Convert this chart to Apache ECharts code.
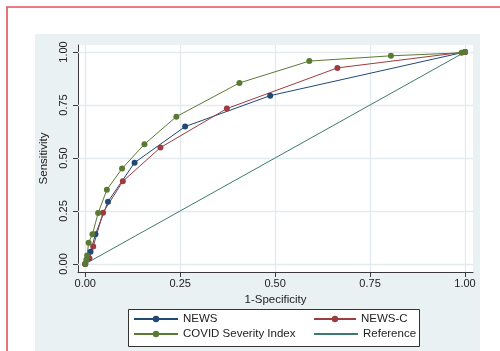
<!DOCTYPE html>
<html>
<head>
<meta charset="utf-8">
<script src="https://cdn.jsdelivr.net/npm/echarts@6/dist/echarts.min.js"></script>
<style>
  html, body { margin: 0; padding: 0; background: #ffffff; }
  #chart { width: 500px; height: 351px; }
</style>
</head>
<body>
<div id="chart"></div>
<script>
// Tick positions shared by both axes
const tickValues = [0, 0.25, 0.5, 0.75, 1];

// ROC curve operating points (1-specificity, sensitivity)
const newsFpr = [0, 0.014, 0.027, 0.060, 0.130, 0.263, 0.487, 1];
const newsTpr = [0, 0.058, 0.140, 0.294, 0.478, 0.648, 0.794, 1];

const newsCFpr = [0, 0.011, 0.021, 0.047, 0.099, 0.198, 0.373, 0.664, 1];
const newsCTpr = [0, 0.027, 0.082, 0.242, 0.390, 0.549, 0.733, 0.925, 1];

const covidFpr = [0, 0.003, 0.005, 0.009, 0.019, 0.034, 0.057, 0.097, 0.156, 0.240, 0.406, 0.590, 0.805, 0.991, 1];
const covidTpr = [0, 0.020, 0.040, 0.100, 0.140, 0.240, 0.350, 0.450, 0.565, 0.695, 0.854, 0.957, 0.982, 0.996, 1];

// Chance diagonal
const refFpr = [0, 1];
const refTpr = [0, 1];

const colors = {
  news: '#1f4a78',
  newsC: '#9c3c40',
  covid: '#5a7a33',
  ref: '#3d7a70'
};

const pairs = (xs, ys) => xs.map((x, i) => [x, ys[i]]);

const FONT = '"Liberation Sans", Arial, Helvetica, sans-serif';
const TEXT = '#222222';

const chart = echarts.init(document.getElementById('chart'), null, { renderer: 'canvas' });

const fmt = v => Number(v).toFixed(2);

const legendBase = {
  orient: 'horizontal',
  padding: 0,
  itemHeight: 8,
  selectedMode: false,
  textStyle: { fontFamily: FONT, fontSize: 11.5, color: TEXT }
};

const option = {
  animation: false,
  backgroundColor: '#ffffff',
  graphic: [
    // graph region background
    { type: 'rect', z: -10, shape: { x: 35, y: 34, width: 445, height: 320 },
      style: { fill: '#eaf1f3' }, silent: true },
    // outer frame
    { type: 'polyline', z: 10, shape: { points: [[7, 352], [7, 7], [501, 7]] },
      style: { stroke: '#e0535b', lineWidth: 1.6, fill: null }, silent: true },
    // legend box
    { type: 'rect', z: 5, shape: { x: 128.5, y: 309.5, width: 291, height: 37 },
      style: { fill: '#ffffff', stroke: '#333333', lineWidth: 1 }, silent: true }
  ],
  grid: {
    left: 78, right: 27, top: 45, bottom: 79,
    show: true, backgroundColor: '#ffffff', borderWidth: 0
  },
  legend: [
    Object.assign({}, legendBase, { data: ['NEWS'], left: 133, top: 313, itemWidth: 44, z: 6 }),
    Object.assign({}, legendBase, { data: ['COVID Severity Index'], left: 133, top: 328, itemWidth: 44, z: 6 }),
    Object.assign({}, legendBase, { data: ['NEWS-C'], left: 313, top: 313, itemWidth: 42, z: 6 }),
    // the diagonal has no markers, so its key is a plain line
    Object.assign({}, legendBase, { data: ['Reference'], left: 313, top: 328, itemWidth: 44, z: 6,
      itemStyle: { opacity: 0 } })
  ],
  xAxis: {
    type: 'value',
    min: -0.019, max: 1.021,
    name: '1-Specificity',
    nameLocation: 'middle',
    nameGap: 18,
    nameTextStyle: { fontFamily: FONT, fontSize: 11.5, color: TEXT },
    axisLine: { show: true, onZero: false, lineStyle: { color: '#3a3a3a', width: 1 } },
    axisTick: { show: true, length: 5, customValues: tickValues, lineStyle: { color: '#3a3a3a' } },
    axisLabel: { customValues: tickValues, formatter: fmt, margin: 6,
      fontFamily: FONT, fontSize: 11, color: TEXT },
    splitLine: { show: false }
  },
  yAxis: {
    type: 'value',
    min: -0.038, max: 1.033,
    name: 'Sensitivity',
    nameLocation: 'middle',
    nameGap: 27,
    nameTextStyle: { fontFamily: FONT, fontSize: 11.5, color: TEXT },
    axisLine: { show: true, onZero: false, lineStyle: { color: '#3a3a3a', width: 1 } },
    axisTick: { show: true, length: 5, customValues: tickValues, lineStyle: { color: '#3a3a3a' } },
    axisLabel: { customValues: tickValues, formatter: fmt, rotate: 90, margin: 9,
      fontFamily: FONT, fontSize: 11, color: TEXT },
    splitLine: { show: false }
  },
  series: [
    {
      name: 'Reference', type: 'line', z: 2,
      data: pairs(refFpr, refTpr),
      symbol: 'none',
      lineStyle: { color: colors.ref, width: 1 },
      itemStyle: { color: colors.ref },
      // light grid at the tick positions, kept beneath the curves
      markLine: {
        silent: true,
        z: 1,
        symbol: 'none',
        label: { show: false },
        emphasis: { disabled: true },
        lineStyle: { color: '#e2eaee', width: 1.3, type: 'solid' },
        data: tickValues.map(v => ({ xAxis: v })).concat(tickValues.map(v => ({ yAxis: v })))
      }
    },
    {
      name: 'NEWS', type: 'line', z: 3,
      data: pairs(newsFpr, newsTpr),
      symbol: 'circle', symbolSize: 6,
      lineStyle: { color: colors.news, width: 1 },
      itemStyle: { color: colors.news }
    },
    {
      name: 'NEWS-C', type: 'line', z: 3,
      data: pairs(newsCFpr, newsCTpr),
      symbol: 'circle', symbolSize: 6,
      lineStyle: { color: colors.newsC, width: 1 },
      itemStyle: { color: colors.newsC }
    },
    {
      name: 'COVID Severity Index', type: 'line', z: 4,
      data: pairs(covidFpr, covidTpr),
      symbol: 'circle', symbolSize: 6,
      lineStyle: { color: colors.covid, width: 1 },
      itemStyle: { color: colors.covid }
    }
  ]
};

chart.setOption(option);
</script>
</body>
</html>
